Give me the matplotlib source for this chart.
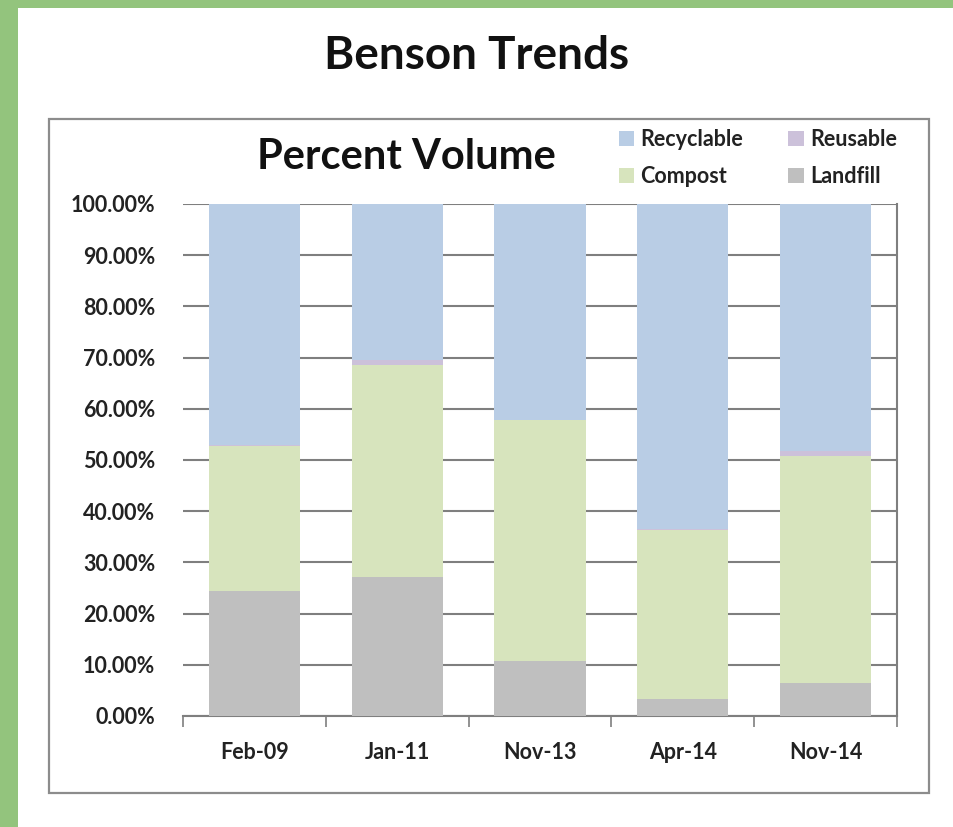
import matplotlib
matplotlib.use("Agg")
import matplotlib.pyplot as plt
from matplotlib.patches import Rectangle
from matplotlib.ticker import FuncFormatter, FixedLocator
import numpy as np

categories = ["Feb-09", "Jan-11", "Nov-13", "Apr-14", "Nov-14"]
landfill = [24.4, 27.1, 10.8, 3.3, 6.5]
compost = [28.3, 41.5, 47.1, 33.0, 44.3]
reusable = [0.2, 0.9, 0.0, 0.2, 0.9]
recyclable = [47.1, 30.5, 42.1, 63.5, 48.3]
yticks = [0, 10, 20, 30, 40, 50, 60, 70, 80, 90, 100]

C_REC = "#B9CDE5"
C_REU = "#CCC1DA"
C_COM = "#D7E4BD"
C_LAN = "#BFBFBF"

plt.rcParams['font.family'] = ['Lato', 'DejaVu Sans']

W, H = 954, 827
fig = plt.figure(figsize=(W / 100, H / 100), dpi=100)
fig.patch.set_facecolor("white")

def px(x0, y0, x1, y1):
    return [x0 / W, 1 - y1 / H, (x1 - x0) / W, (y1 - y0) / H]

# green page border (left and top)
fig.patches.append(Rectangle((0, 0), 18 / W, 1, transform=fig.transFigure,
                             facecolor="#93C47D", edgecolor="none", zorder=0))
fig.patches.append(Rectangle((0, 1 - 8 / H), 1, 8 / H, transform=fig.transFigure,
                             facecolor="#93C47D", edgecolor="none", zorder=0))
# chart frame
fig.patches.append(Rectangle((49 / W, 1 - 793 / H), (929 - 49) / W, (793 - 119) / H,
                             transform=fig.transFigure, facecolor="white",
                             edgecolor="#8C8C8C", linewidth=1.6, zorder=1))

fig.text(477 / W, 1 - 56 / H, "Benson Trends", ha="center", va="center",
         fontsize=33, fontweight="bold", color="#111111")

ax = fig.add_axes(px(183, 204, 897, 716))
ax.set_zorder(2)
ax.patch.set_alpha(0)

x = np.arange(len(categories))
bw = 0.64
b1 = np.array(landfill)
b2 = b1 + np.array(compost)
b3 = b2 + np.array(reusable)
h_lan = ax.bar(x, landfill, bw, color=C_LAN, label="Landfill", zorder=3)
h_com = ax.bar(x, compost, bw, bottom=b1, color=C_COM, label="Compost", zorder=3)
h_reu = ax.bar(x, reusable, bw, bottom=b2, color=C_REU, label="Reusable", zorder=3)
h_rec = ax.bar(x, recyclable, bw, bottom=b3, color=C_REC, label="Recyclable", zorder=3)

ax.set_xlim(-0.5, len(categories) - 0.5)
ax.set_ylim(0, 100)
ax.set_yticks(yticks)
ax.yaxis.set_major_formatter(FuncFormatter(lambda v, p: f"{v:.2f}%"))
ax.grid(axis="y", color="#7F7F7F", linewidth=1.5, zorder=1)
ax.set_axisbelow(True)

ax.set_xticks(x)
ax.set_xticklabels(categories)
ax.xaxis.set_minor_locator(FixedLocator(np.arange(-0.5, len(categories), 1.0)))
ax.tick_params(axis="x", which="major", length=0, pad=19, labelsize=15.5,
               labelcolor="#222222")
ax.tick_params(axis="x", which="minor", length=8, width=1.2, color="#7F7F7F",
               direction="out")
ax.tick_params(axis="y", length=0, pad=20, labelsize=15.5, labelcolor="#222222")
for lab in ax.get_xticklabels() + ax.get_yticklabels():
    lab.set_fontweight("bold")

for s in ["left", "top"]:
    ax.spines[s].set_visible(False)
for s in ["bottom", "right"]:
    ax.spines[s].set_color("#7F7F7F")
    ax.spines[s].set_linewidth(1.5)

fig.text(406 / W, 1 - 157 / H, "Percent Volume", ha="center", va="center",
         fontsize=30, fontweight="bold", color="#111111")

leg = fig.legend([h_rec, h_com, h_reu, h_lan],
                 ["Recyclable", "Compost", "Reusable", "Landfill"],
                 ncol=2, loc="upper left", bbox_to_anchor=(619 / W, 1 - 129 / H),
                 frameon=False, handlelength=0.7, handleheight=0.7,
                 handletextpad=0.3, columnspacing=2.1, labelspacing=0.75,
                 borderpad=0, borderaxespad=0,
                 prop={"weight": "bold", "size": 15.5})
for t in leg.get_texts():
    t.set_color("#222222")

fig.savefig("out.png", dpi=100, facecolor="white")
